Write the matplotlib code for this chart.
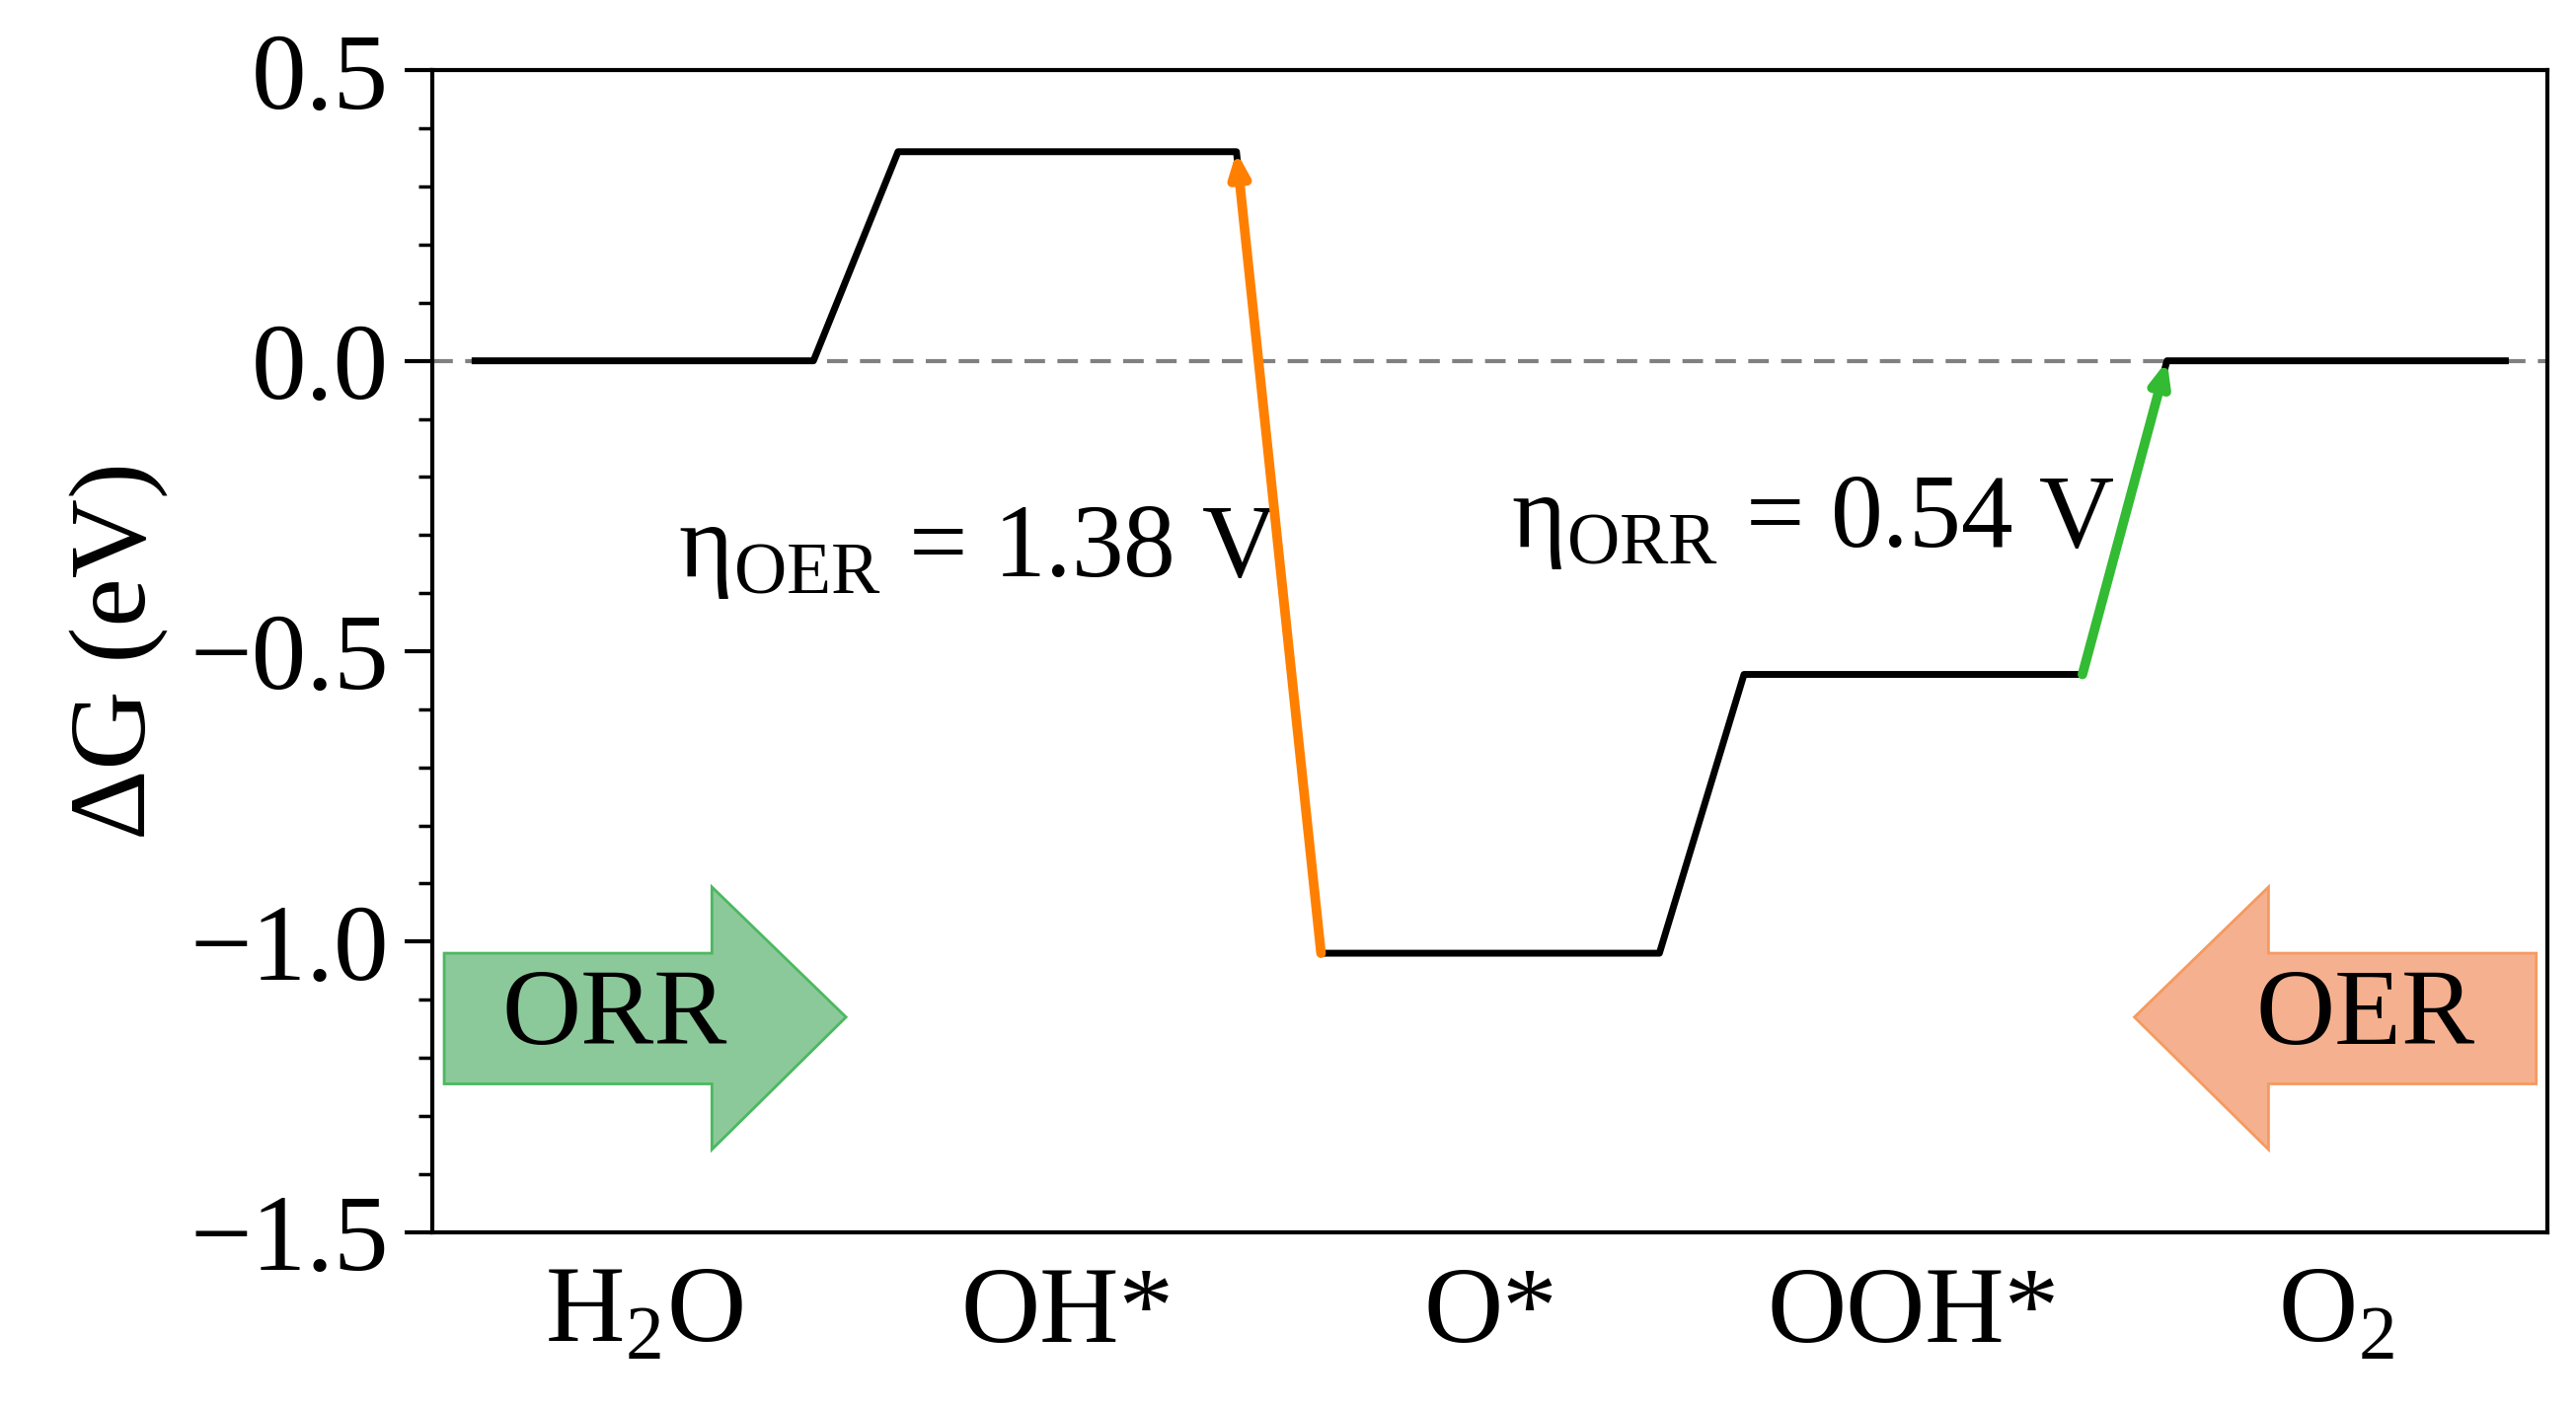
import matplotlib.pyplot as plt
from matplotlib.patches import Polygon
from matplotlib.ticker import MultipleLocator

plt.rcParams['font.family'] = ['Liberation Serif', 'DejaVu Serif']
plt.rcParams['mathtext.fontset'] = 'custom'
plt.rcParams['mathtext.rm'] = 'Liberation Serif'

states = ['H$_2$O', 'OH*', 'O*', 'OOH*', 'O$_2$']
energies = [0.0, 0.36, -1.02, -0.54, 0.0]
eta_oer = 1.38
eta_orr = 0.54

fig = plt.figure(figsize=(26.1, 14.27), dpi=100)
ax = fig.add_axes([0.168, 0.125, 0.821, 0.825])

hw = 0.4
xs = list(range(1, len(states) + 1))
px, py = [], []
for x, e in zip(xs, energies):
    px += [x - hw, x + hw]
    py += [e, e]
ax.plot(px, py, color='black', lw=5, zorder=3)
ax.axhline(0, color='gray', ls=(0, (5, 3)), lw=3, zorder=1)

# overpotential arrows
ax.annotate('', xy=(2 + hw, energies[1]), xytext=(3 - hw, energies[2]),
            arrowprops=dict(arrowstyle='-|>,head_length=1.3,head_width=0.55',
                            color='#ff8000', lw=7, shrinkA=0, shrinkB=0), zorder=4)
ax.annotate('', xy=(5 - hw, energies[4]), xytext=(4 + hw, energies[3]),
            arrowprops=dict(arrowstyle='-|>,head_length=1.3,head_width=0.55',
                            color='#33bb33', lw=7, shrinkA=0, shrinkB=0), zorder=4)

ax.text(1.08, -0.33, 'η$_{\\mathrm{OER}}$ = %.2f V' % eta_oer, fontsize=76, va='center')
ax.text(3.05, -0.28, 'η$_{\\mathrm{ORR}}$ = %.2f V' % eta_orr, fontsize=76, va='center')

# big direction arrows
orr = Polygon([(0.527, -1.02), (1.16, -1.02), (1.16, -0.906), (1.477, -1.13),
               (1.16, -1.358), (1.16, -1.245), (0.527, -1.245)],
              closed=True, fc='#8cc99a', ec='#4cb860', lw=2, zorder=2)
oer = Polygon([(5.473, -1.02), (4.84, -1.02), (4.84, -0.906), (4.523, -1.13),
               (4.84, -1.358), (4.84, -1.245), (5.473, -1.245)],
              closed=True, fc='#f5b08f', ec='#f59a60', lw=2, zorder=2)
ax.add_patch(orr)
ax.add_patch(oer)
ax.text(0.93, -1.13, 'ORR', fontsize=80, ha='center', va='center', zorder=3)
ax.text(5.07, -1.13, 'OER', fontsize=80, ha='center', va='center', zorder=3)

ax.set_xlim(0.5, 5.5)
ax.set_ylim(-1.5, 0.5)
ax.set_xticks(xs)
ax.set_xticklabels(states)
ax.yaxis.set_major_locator(MultipleLocator(0.5))
ax.yaxis.set_minor_locator(MultipleLocator(0.1))
ax.yaxis.set_major_formatter(plt.FuncFormatter(lambda v, p: ('%.1f' % v).replace('-', '\u2212')))
ax.tick_params(axis='y', which='major', length=20, width=3, labelsize=80, pad=12)
ax.tick_params(axis='y', which='minor', length=10, width=2.5)
ax.tick_params(axis='x', length=0, labelsize=80, pad=25)
ax.set_ylabel('ΔG (eV)', fontsize=80, labelpad=15)
for s in ax.spines.values():
    s.set_linewidth(3)

fig.savefig('out.png', dpi=100)
